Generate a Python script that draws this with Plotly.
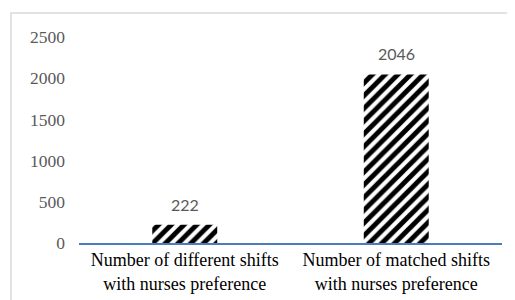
import plotly.graph_objects as go

categories = ["Number of different shifts<br>with nurses preference",
              "Number of matched shifts<br>with nurses preference"]
values = [222, 2046]
tick_vals = [0, 500, 1000, 1500, 2000, 2500]

fig = go.Figure()
fig.add_trace(go.Bar(
    x=categories, y=values, width=0.307,
    marker=dict(color="white", line=dict(width=0),
                pattern=dict(shape="/", fgcolor="black", bgcolor="white",
                             fgopacity=1, size=9, solidity=0.55)),
))
for c, v in zip(categories, values):
    fig.add_annotation(x=c, y=v, text=str(v), showarrow=False,
                       yanchor="bottom", yshift=9,
                       font=dict(family="Lato", size=16, color="#595959"))

fig.add_shape(type="rect", xref="paper", yref="paper",
              x0=-0.1608, x1=1.2, y0=-0.6, y1=1.1165,
              line=dict(color="#d9d9d9", width=1.5), fillcolor="rgba(0,0,0,0)")

fig.update_layout(
    width=515, height=300,
    margin=dict(l=71, r=21, t=29, b=65),
    paper_bgcolor="white", plot_bgcolor="white",
    showlegend=False,
    bargap=0.69,
)
fig.update_xaxes(showline=True, linecolor="#4a7ebb", linewidth=1.5,
                 showgrid=False, ticks="", automargin=False,
                 tickfont=dict(family="Liberation Serif", size=18, color="black"))
fig.update_yaxes(range=[0, 2500], tickvals=tick_vals, showgrid=False,
                 zeroline=False, showline=False, ticks="", automargin=False,
                 ticklabelstandoff=13,
                 tickfont=dict(family="Liberation Serif", size=17.5, color="#595959"))
fig.write_html("out.html")
